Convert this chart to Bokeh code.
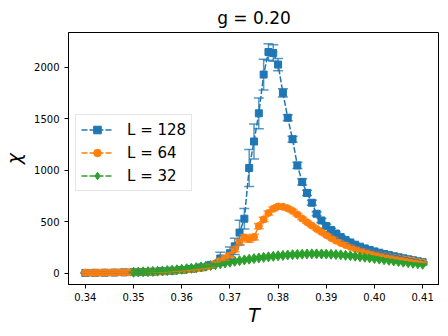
from bokeh.plotting import figure
from bokeh.models import (Range1d, FixedTicker, PrintfTickFormatter, Whisker, TeeHead,
                          ColumnDataSource, Legend, LegendItem)
from bokeh.embed import file_html
from bokeh.resources import INLINE

# ---------------- data ----------------
T_128 = [0.340, 0.342, 0.344, 0.346, 0.348, 0.350, 0.352, 0.354, 0.356, 0.358,
         0.360, 0.362, 0.364, 0.366, 0.368, 0.370, 0.371, 0.372, 0.373, 0.374,
         0.375, 0.376, 0.377, 0.378, 0.379, 0.380, 0.381, 0.382, 0.383, 0.384,
         0.385, 0.386, 0.387, 0.388, 0.389, 0.390, 0.391, 0.392, 0.393, 0.394,
         0.395, 0.396, 0.397, 0.398, 0.399, 0.400, 0.401, 0.402, 0.403, 0.404,
         0.405, 0.406, 0.407, 0.408, 0.409, 0.410]
chi_128 = [2, 3, 4, 5, 7, 9, 11, 14, 18, 23,
           30, 40, 55, 80, 142, 193, 260, 394, 529, 1022,
           1280, 1554, 1931, 2150, 2140, 2028, 1753, 1511, 1302, 1047,
           887, 780, 684, 577, 512, 457, 420, 385, 350, 322,
           298, 276, 257, 240, 225, 211, 198, 186, 175, 164,
           154, 144, 134, 125, 115, 106]
err_128 = [3, 3, 3, 4, 4, 5, 5, 6, 6, 7,
           8, 10, 12, 20, 60, 60, 80, 120, 100, 180,
           170, 150, 150, 80, 80, 60, 40, 30, 30, 30,
           30, 25, 25, 20, 20, 18, 16, 15, 14, 13,
           12, 11, 10, 10, 9, 9, 8, 8, 7, 7,
           7, 6, 6, 6, 5, 5]

T_64 = [0.340, 0.341, 0.342, 0.343, 0.344, 0.345, 0.346, 0.347, 0.348, 0.349,
        0.350, 0.351, 0.352, 0.353, 0.354, 0.355, 0.356, 0.357, 0.358, 0.359,
        0.360, 0.361, 0.362, 0.363, 0.364, 0.365, 0.366, 0.367, 0.368, 0.369,
        0.370, 0.371, 0.372, 0.373, 0.374, 0.375, 0.376, 0.377, 0.378, 0.379,
        0.380, 0.381, 0.382, 0.383, 0.384, 0.385, 0.386, 0.387, 0.388, 0.389,
        0.390, 0.391, 0.392, 0.393, 0.394, 0.395, 0.396, 0.397, 0.398, 0.399,
        0.400, 0.401, 0.402, 0.403, 0.404, 0.405, 0.406, 0.407, 0.408, 0.409,
        0.410]
chi_64 = [3, 3, 4, 4, 5, 5, 6, 7, 7, 8,
          9, 10, 11, 12, 14, 15, 17, 19, 22, 25,
          28, 32, 37, 43, 50, 60, 72, 95, 120, 145,
          170, 232, 300, 345, 330, 350, 457, 522, 585, 625,
          648, 645, 630, 605, 570, 530, 495, 462, 430, 400,
          370, 342, 316, 293, 273, 255, 240, 226, 213, 201,
          190, 179, 169, 160, 151, 143, 135, 127, 119, 111,
          103]
err_64 = [2, 2, 2, 2, 2, 2, 2, 2, 3, 3,
          3, 3, 3, 3, 4, 4, 4, 5, 5, 5,
          6, 6, 7, 8, 9, 10, 12, 14, 18, 20,
          22, 25, 28, 30, 30, 28, 25, 22, 20, 18,
          16, 15, 14, 13, 12, 12, 11, 11, 10, 10,
          9, 9, 8, 8, 8, 7, 7, 7, 6, 6,
          6, 6, 5, 5, 5, 5, 5, 4, 4, 4,
          4]

T_32 = [0.350, 0.351, 0.352, 0.353, 0.354, 0.355, 0.356, 0.357, 0.358, 0.359,
        0.360, 0.361, 0.362, 0.363, 0.364, 0.365, 0.366, 0.367, 0.368, 0.369,
        0.370, 0.371, 0.372, 0.373, 0.374, 0.375, 0.376, 0.377, 0.378, 0.379,
        0.380, 0.381, 0.382, 0.383, 0.384, 0.385, 0.386, 0.387, 0.388, 0.389,
        0.390, 0.391, 0.392, 0.393, 0.394, 0.395, 0.396, 0.397, 0.398, 0.399,
        0.400, 0.401, 0.402, 0.403, 0.404, 0.405, 0.406, 0.407, 0.408, 0.409,
        0.410]
chi_32 = [8, 10, 12, 14, 16, 18, 21, 24, 28, 32,
          37, 42, 47, 53, 60, 67, 74, 82, 90, 98,
          106, 114, 121, 128, 135, 141, 147, 153, 158, 163,
          168, 172, 176, 179, 182, 184, 186, 187, 187, 186,
          185, 183, 180, 177, 173, 169, 164, 159, 154, 148,
          142, 136, 130, 124, 118, 112, 106, 100, 95, 90,
          85]
err_32 = [2, 2, 2, 2, 2, 3, 3, 3, 3, 3,
          4, 4, 4, 4, 5, 5, 5, 5, 6, 6,
          6, 6, 6, 7, 7, 7, 7, 7, 7, 7,
          7, 7, 7, 7, 7, 7, 7, 7, 7, 7,
          7, 6, 6, 6, 6, 6, 6, 5, 5, 5,
          5, 5, 5, 5, 4, 4, 4, 4, 4, 4,
          4]

x_ticks = [0.34, 0.35, 0.36, 0.37, 0.38, 0.39, 0.40, 0.41]
y_ticks = [0, 500, 1000, 1500, 2000]

series = [
    ("L = 128", T_128, chi_128, err_128, "#1f77b4", "square", 7),
    ("L = 64", T_64, chi_64, err_64, "#ff7f0e", "circle", 7),
    ("L = 32", T_32, chi_32, err_32, "#2ca02c", "diamond", 10),
]

FONT = "DejaVu Sans"

p = figure(frame_width=371, frame_height=252, output_backend="svg", toolbar_location=None,
           x_range=Range1d(0.3365, 0.4135), y_range=Range1d(-111, 2340),
           min_border_left=58, min_border_right=0, min_border_top=24, min_border_bottom=0,
           title="g = 0.20")

p.title.align = "center"
p.title.text_font = FONT
p.title.text_font_size = "17px"
p.title.text_font_style = "normal"
p.title.text_color = "black"

p.xgrid.visible = False
p.ygrid.visible = False
p.outline_line_color = "black"
p.outline_line_width = 1
p.background_fill_color = "white"
p.border_fill_color = "white"

p.xaxis.ticker = FixedTicker(ticks=x_ticks)
p.yaxis.ticker = FixedTicker(ticks=y_ticks)
p.xaxis.formatter = PrintfTickFormatter(format="%.2f")
p.yaxis.formatter = PrintfTickFormatter(format="%d")
for ax in (p.xaxis, p.yaxis):
    ax.axis_line_color = "black"
    ax.major_tick_line_color = "black"
    ax.minor_tick_line_color = None
    ax.major_tick_in = 0
    ax.major_tick_out = 4
    ax.major_label_text_font = FONT
    ax.major_label_text_font_size = "10px"
    ax.major_label_text_color = "black"
    ax.axis_label_text_font = FONT
    ax.axis_label_text_font_size = "19px"
    ax.axis_label_text_font_style = "italic"
    ax.axis_label_text_color = "black"
p.xaxis.axis_label = "T"
p.yaxis.axis_label = "χ"
p.xaxis.major_label_standoff = 4
p.xaxis.axis_label_standoff = 0
p.yaxis.axis_label_standoff = 6

items = []
for label, T, chi, err, color, marker, size in series:
    up = [c + e for c, e in zip(chi, err)]
    lo = [c - e for c, e in zip(chi, err)]
    src = ColumnDataSource(data=dict(T=T, chi=chi, up=up, lo=lo))
    w = Whisker(source=src, base="T", upper="up", lower="lo", dimension="height",
                line_color=color, line_width=1.5, line_alpha=0.75, level="glyph",
                upper_head=TeeHead(size=10, line_color=color, line_width=1.5, line_alpha=0.75),
                lower_head=TeeHead(size=10, line_color=color, line_width=1.5, line_alpha=0.75))
    p.add_layout(w)
    ln = p.line("T", "chi", source=src, line_color=color, line_width=1.5, line_dash="6 2")
    sc = p.scatter("T", "chi", source=src, marker=marker, size=size,
                   fill_color=color, line_color=color)
    items.append(LegendItem(label=label, renderers=[ln, sc]))

legend = Legend(items=items, location=(7, 93))
legend.label_text_font = FONT
legend.label_text_font_size = "15px"
legend.label_text_color = "black"
legend.glyph_width = 32
legend.glyph_height = 19
legend.spacing = 4
legend.padding = 5
legend.margin = 0
legend.label_standoff = 14
legend.border_line_color = "#cccccc"
legend.background_fill_alpha = 0.8
p.add_layout(legend, "center")

open("out.html", "w").write(file_html(p, INLINE))
